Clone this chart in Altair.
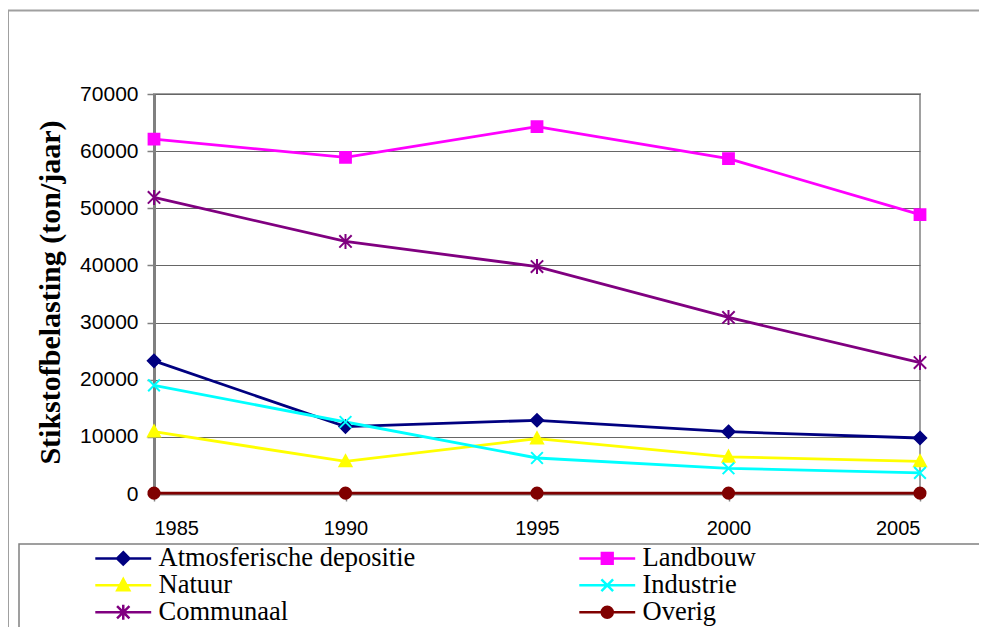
import altair as alt
import pandas as pd

years = [1985, 1990, 1995, 2000, 2005]
series_names = ["Atmosferische depositie", "Landbouw", "Natuur", "Industrie", "Communaal", "Overig"]
atmosferische = [23300, 11800, 12900, 10900, 9800]
landbouw = [62100, 58900, 64300, 58700, 48900]
natuur = [10900, 5700, 9700, 6500, 5700]
industrie = [19000, 12600, 6300, 4500, 3700]
communaal = [51900, 44200, 39800, 30900, 23000]
overig = [150, 150, 150, 150, 150]
colors = ["#000080", "#FF00FF", "#FFFF00", "#00FFFF", "#800080", "#800000"]
y_ticks = [0, 10000, 20000, 30000, 40000, 50000, 60000, 70000]
x_ticks = [1985, 1990, 1995, 2000, 2005]

marker_paths = [
    "M0,-0.95L0.95,0L0,0.95L-0.95,0Z",
    "M-0.83,-0.83H0.83V0.83H-0.83Z",
    "M0,-0.95L0.92,0.75H-0.92Z",
    "M-0.9,-0.9L0.9,0.9M-0.9,0.9L0.9,-0.9",
    "M-0.95,-0.95L0.95,0.95M-0.95,0.95L0.95,-0.95M0,-1.15V1.15",
    "M-0.85,0A0.85,0.85,0,1,0,0.85,0A0.85,0.85,0,1,0,-0.85,0Z",
]
legend_paths = ["M-4.3,0H4.3" + p for p in marker_paths]

# legend is filled column by column: reorder so rows read like the reference
legend_order = [0, 2, 4, 1, 3, 5]
legend_domain = [series_names[i] for i in legend_order]
legend_colors = [colors[i] for i in legend_order]
legend_shapes = [legend_paths[i] for i in legend_order]

all_values = [atmosferische, landbouw, natuur, industrie, communaal, overig]
rows = []
for name, vals in zip(series_names, all_values):
    for yr, v in zip(years, vals):
        rows.append({"jaar": yr, "waarde": v, "serie": name})
df = pd.DataFrame(rows)

x_enc = alt.X("jaar:Q", scale=alt.Scale(domain=[1985, 2005], nice=False),
              axis=alt.Axis(values=x_ticks, format="d", title=None, grid=False,
                            labelFont="Liberation Sans", labelFontSize=20, labelColor="black",
                            tickSize=7, tickColor="#808080", tickWidth=1.5,
                            domainColor="#808080", domainWidth=2, labelPadding=17))
y_enc = alt.Y("waarde:Q", scale=alt.Scale(domain=[0, 70000], nice=False),
              axis=alt.Axis(values=y_ticks, format="d", title="Stikstofbelasting (ton/jaar)",
                            titleFont="Liberation Serif", titleFontSize=30, titleFontWeight="bold",
                            titleColor="black", titleX=-103.5, titleY=198, titleAngle=270,
                            titleAlign="center", titleBaseline="middle",
                            labelFont="Liberation Sans", labelFontSize=21, labelColor="black",
                            tickSize=7, tickColor="#808080", tickWidth=1.5, labelPadding=9,
                            domainColor="#808080", domainWidth=3,
                            grid=True, gridColor="#666666", gridWidth=1))

color_scale = alt.Scale(domain=series_names, range=colors)

base = alt.Chart(df)

lines = base.mark_line(strokeWidth=2.8).encode(
    x=x_enc, y=y_enc,
    color=alt.Color("serie:N", scale=color_scale, legend=None),
    detail="serie:N",
)

points = base.mark_point(filled=True, size=169, strokeWidth=2, opacity=1).encode(
    x=x_enc, y=y_enc,
    fill=alt.Fill("serie:N", scale=color_scale, legend=None),
    stroke=alt.Stroke("serie:N", scale=color_scale, legend=None),
    shape=alt.Shape("serie:N", scale=alt.Scale(domain=series_names, range=marker_paths), legend=None),
)

leg = alt.Legend(title=None, orient="none", legendX=-44, legendY=451, columns=2,
                 columnPadding=158, rowPadding=0, padding=0,
                 labelFont="Liberation Serif", labelFontSize=26.5, labelColor="black",
                 labelOffset=22, labelLimit=500, symbolSize=169, symbolStrokeWidth=2.5)

legend_layer = base.transform_filter("false").mark_point(filled=True, size=169, strokeWidth=2.5, opacity=1).encode(
    x=x_enc, y=y_enc,
    fill=alt.Fill("serie:N", scale=alt.Scale(domain=legend_domain, range=legend_colors), legend=leg),
    stroke=alt.Stroke("serie:N", scale=alt.Scale(domain=legend_domain, range=legend_colors), legend=leg),
    shape=alt.Shape("serie:N", scale=alt.Scale(domain=legend_domain, range=legend_shapes), legend=leg),
)

box_df = pd.DataFrame({"k": [0]})
outer_box = alt.Chart(box_df).mark_rect(fill="transparent", stroke="#a0a0a0", strokeWidth=2).encode(
    x=alt.value(-146), x2=alt.value(900), y=alt.value(-83.5), y2=alt.value(700))
legend_box = alt.Chart(box_df).mark_rect(fill="transparent", stroke="#808080", strokeWidth=1.5).encode(
    x=alt.value(-135), x2=alt.value(831), y=alt.value(450), y2=alt.value(700))

chart = alt.layer(outer_box, legend_box, lines, points, legend_layer).resolve_scale(
    color="independent", fill="independent", stroke="independent", shape="independent"
).properties(
    width=766, height=400,
    autosize=alt.AutoSizeParams(type="none"),
    padding={"left": 146, "top": 86, "right": 59, "bottom": 133},
    background="white",
).configure_view(stroke="#a0a0a0", strokeWidth=2)

chart.save("out.html", embed_options={"renderer": "svg", "actions": False})
